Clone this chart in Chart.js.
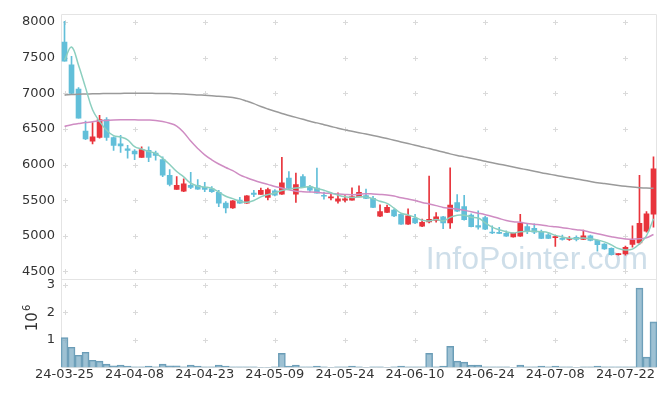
<!DOCTYPE html>
<html>
<head>
<meta charset="utf-8">
<script src="https://cdn.jsdelivr.net/npm/chart.js@4.4.1/dist/chart.umd.min.js"></script>
<style>
  html, body { margin: 0; padding: 0; background: #fff; }
  #wrap { width: 665px; height: 396px; }
</style>
</head>
<body>
<div id="wrap"><canvas id="chart"></canvas></div>
<script>
// trading days shown on the x axis
const dates = [
  '24-03-25','24-03-26','24-03-27','24-03-28','24-03-29','24-04-01','24-04-02','24-04-03','24-04-04','24-04-05',
  '24-04-08','24-04-09','24-04-11','24-04-12','24-04-15','24-04-16','24-04-17','24-04-18','24-04-19','24-04-22',
  '24-04-23','24-04-24','24-04-25','24-04-26','24-04-29','24-04-30','24-05-02','24-05-03','24-05-07','24-05-08',
  '24-05-09','24-05-10','24-05-13','24-05-14','24-05-16','24-05-17','24-05-20','24-05-21','24-05-22','24-05-23',
  '24-05-24','24-05-27','24-05-28','24-05-29','24-05-30','24-05-31','24-06-03','24-06-04','24-06-05','24-06-07',
  '24-06-10','24-06-11','24-06-12','24-06-13','24-06-14','24-06-17','24-06-18','24-06-19','24-06-20','24-06-21',
  '24-06-24','24-06-25','24-06-26','24-06-27','24-06-28','24-07-01','24-07-02','24-07-03','24-07-04','24-07-05',
  '24-07-08','24-07-09','24-07-10','24-07-11','24-07-12','24-07-15','24-07-16','24-07-17','24-07-18','24-07-19',
  '24-07-22','24-07-23','24-07-24','24-07-25','24-07-26'
];

const opens = [7720,7400,7060,6470,6330,6380,6630,6380,6290,6220, 6190,6100,6200,6160,6070,5850,5650,5625,5710,5710,
  5680,5660,5610,5460,5390,5500,5460,5600,5580,5540, 5630,5585,5810,5585,5830,5685,5670,5565,5533,5485,
  5500,5500,5545,5565,5525,5275,5330,5360,5300,5165, 5245,5135,5195,5215,5265,5180,5465,5410,5290,5145,
  5255,5050,5045,5035,4985,4995,5130,5105,5050,5015, 4975,4965,4950,4980,4950,5000,4935,4885,4825,4735,
  4745,4880,4900,5065,5305];
const highs = [8010,7520,7080,6610,6590,6690,6660,6390,6410,6270, 6210,6250,6250,6190,6110,5930,5830,5800,5890,5790,
  5750,5690,5640,5480,5495,5540,5565,5640,5670,5670, 5650,6100,5900,5880,5860,5710,5950,5615,5605,5605,
  5565,5675,5700,5655,5555,5435,5430,5375,5310,5380, 5300,5235,5840,5325,5275,5955,5580,5570,5310,5350,
  5275,5140,5120,5070,5040,5300,5170,5170,5080,5030, 5000,5010,4990,5000,5080,5010,4940,4890,4830,4750,
  4855,5140,5850,5340,6110];
const lows = [7450,6990,6650,6350,6290,6370,6340,6200,6170,6090, 6070,6100,6040,6060,5830,5700,5650,5620,5660,5650,
  5620,5610,5410,5320,5385,5455,5455,5550,5580,5505, 5560,5580,5660,5470,5680,5615,5600,5515,5505,5460,
  5475,5500,5545,5520,5395,5270,5325,5270,5160,5160, 5170,5130,5180,5190,5100,5105,5340,5220,5125,5095,
  5085,5030,5030,4990,4980,4990,5030,5030,4960,4960, 4850,4940,4935,4930,4945,4930,4785,4810,4730,4730,
  4730,4840,4880,5050,5120];
const closes = [7450,7000,6650,6360,6390,6630,6380,6270,6260,6200, 6150,6210,6100,6130,5850,5720,5710,5730,5680,5655,
  5650,5620,5460,5390,5490,5460,5560,5580,5640,5650, 5570,5745,5665,5720,5685,5640,5600,5555,5540,5520,
  5520,5550,5610,5525,5400,5340,5400,5280,5165,5280, 5180,5190,5230,5265,5180,5430,5345,5225,5130,5120,
  5095,5040,5035,4995,5035,5180,5060,5050,4965,4965, 4990,4950,4955,4950,5000,4935,4875,4815,4735,4745,
  4840,4935,5175,5310,5940];

// moving average lines
const ma5 = [7465,7650,7395,7080,6770,6606,6482,6406,6386,6348, 6252,6218,6184,6158,6088,6002,5902,5828,5738,5699,
  5685,5667,5613,5555,5522,5484,5472,5496,5546,5578, 5600,5637,5654,5670,5677,5691,5662,5640,5604,5571,
  5547,5537,5548,5545,5521,5485,5455,5389,5317,5293, 5261,5219,5209,5229,5209,5259,5290,5289,5262,5250,
  5183,5122,5084,5057,5040,5057,5061,5064,5058,5044, 5006,4984,4965,4962,4969,4958,4943,4915,4872,4821,
  4802,4814,4886,5001,5240];
const ma20 = [6536,6560,6575,6590,6600,6615,6620,6625,6628,6628, 6628,6625,6625,6620,6605,6580,6540,6450,6330,6226,
  6136,6067,6008,5959,5914,5856,5815,5780,5749,5722, 5693,5670,5648,5627,5619,5615,5610,5601,5594,5587,
  5581,5577,5585,5591,5587,5581,5573,5558,5534,5516, 5496,5468,5447,5424,5399,5388,5375,5359,5338,5318,
  5297,5272,5243,5216,5198,5190,5173,5162,5152,5136, 5126,5114,5101,5085,5076,5051,5028,5007,4987,4969,
  4956,4951,4958,4973,5019];
const maLong = [6977,6982,6987,6990,6993,6995,6997,6998,6999,7000, 7000,7000,7000,6999,6998,6996,6993,6989,6985,6978,
  6972,6966,6960,6952,6942,6922,6890,6855,6815,6780, 6748,6718,6690,6662,6635,6608,6585,6560,6535,6510,
  6487,6468,6448,6428,6408,6388,6365,6342,6318,6295, 6272,6248,6225,6200,6175,6150,6128,6108,6088,6068,
  6046,6026,6006,5986,5966,5946,5926,5906,5886,5868, 5850,5832,5815,5798,5780,5763,5746,5733,5720,5707,
  5695,5684,5676,5670,5667];

const volumes = [1080000,730000,440000,550000,260000,230000,120000,60000,80000,50000,
  25000,25000,50000,20000,120000,60000,60000,25000,80000,50000,
  20000,20000,80000,50000,20000,20000,20000,20000,3000,3000,
  20000,510000,50000,80000,20000,20000,50000,20000,3000,20000,
  20000,50000,20000,3000,20000,20000,3000,20000,50000,20000,
  20000,20000,510000,20000,50000,760000,230000,190000,80000,80000,
  20000,20000,20000,20000,3000,80000,20000,20000,50000,20000,
  50000,20000,20000,3000,20000,20000,50000,20000,20000,20000,
  20000,20000,2870000,370000,1650000];

const priceTicks = [4500, 5000, 5500, 6000, 6500, 7000, 7500, 8000];
const volTicks = [1000000, 2000000, 3000000];
const priceMin = 4394, priceMax = 8116;
const volMax = 3200000;

const UP = '#e8343c', DOWN = '#62bfd9';
const candleColors = opens.map((o, i) => closes[i] >= o ? UP : DOWN);

Chart.defaults.font.family = '"DejaVu Sans", sans-serif';
Chart.defaults.font.size = 13;
Chart.defaults.color = '#333';

// crosses at grid points, panel borders, the watermark and the 10^6 unit label
const decor = {
  id: 'decor',
  beforeDatasetsDraw(chart) {
    const { ctx, chartArea: a, scales } = chart;
    const x = scales.x, yp = scales.y, yv = scales.yv;
    ctx.save();

    ctx.font = '32px "Liberation Sans", Arial, sans-serif';
    ctx.fillStyle = 'rgba(185,208,223,0.7)';
    ctx.textAlign = 'right';
    ctx.textBaseline = 'alphabetic';
    ctx.fillText('InfoPointer.com', a.right - 9, yp.bottom - 10);

    ctx.strokeStyle = '#dadada';
    ctx.lineWidth = 1;
    const cross = (cx, cy) => {
      cx = Math.round(cx) + 0.5; cy = Math.round(cy) + 0.5;
      ctx.beginPath();
      ctx.moveTo(cx - 2.5, cy); ctx.lineTo(cx + 2.5, cy);
      ctx.moveTo(cx, cy - 2.5); ctx.lineTo(cx, cy + 2.5);
      ctx.stroke();
    };
    for (let i = 0; i < dates.length; i += 10) {
      const cx = x.getPixelForValue(i);
      priceTicks.forEach(v => cross(cx, yp.getPixelForValue(v)));
      volTicks.forEach(v => cross(cx, yv.getPixelForValue(v)));
    }

    ctx.strokeStyle = '#e4e4e4';
    const l = Math.round(a.left) + 0.5, r = Math.round(a.right) - 0.5;
    const t = Math.round(a.top) + 0.5, m = Math.round(yp.bottom) + 0.5, b = Math.round(a.bottom) + 0.5;
    ctx.beginPath();
    ctx.moveTo(l, t); ctx.lineTo(r, t); ctx.lineTo(r, b); ctx.lineTo(l, b); ctx.closePath();
    ctx.moveTo(l, m); ctx.lineTo(r, m);
    ctx.stroke();

    // volume unit, rotated, with a raised exponent
    const mid = (yv.top + yv.bottom) / 2;
    ctx.translate(37, mid + 8);
    ctx.rotate(-Math.PI / 2);
    ctx.fillStyle = '#333';
    ctx.textAlign = 'left';
    ctx.font = '15px "DejaVu Sans", sans-serif';
    ctx.fillText('10', 0, 0);
    const w = ctx.measureText('10').width;
    ctx.font = '10px "DejaVu Sans", sans-serif';
    ctx.fillText('6', w + 1, -7);
    ctx.restore();
  }
};

const maLine = (data, color) => ({
  type: 'line', data, yAxisID: 'y', borderColor: color, borderWidth: 1.5,
  pointRadius: 0, tension: 0.4, fill: false, order: 0
});

const noGrid = { display: false, drawTicks: false, tickLength: 0 };

new Chart(document.getElementById('chart'), {
  type: 'bar',
  data: {
    labels: dates,
    datasets: [
      maLine(ma5, '#8ccfbf'),
      maLine(ma20, '#cf8cc3'),
      maLine(maLong, '#9a9a9a'),
      {
        label: 'body', data: opens.map((o, i) => [o, closes[i]]), yAxisID: 'y',
        backgroundColor: candleColors, barThickness: 5, minBarLength: 1, grouped: false, order: 1
      },
      {
        label: 'wick', data: lows.map((lo, i) => [lo, highs[i]]), yAxisID: 'y',
        backgroundColor: candleColors, barThickness: 1, grouped: false, order: 2
      },
      {
        label: 'volume', data: volumes, yAxisID: 'yv',
        backgroundColor: 'rgba(126,172,196,0.75)', borderColor: '#6a9cb6', borderWidth: 1,
        barPercentage: 1, categoryPercentage: 1, grouped: false, order: 3
      }
    ]
  },
  options: {
    responsive: true,
    maintainAspectRatio: false,
    animation: false,
    layout: { padding: { top: 10, right: 8, bottom: 14, left: 0 } },
    plugins: { legend: { display: false }, tooltip: { enabled: false } },
    scales: {
      x: {
        grid: noGrid,
        border: { display: false },
        ticks: {
          autoSkip: false, maxRotation: 0, padding: -0.5,
          callback: (v, i) => i % 10 === 0 ? dates[i] : null
        }
      },
      yv: {
        type: 'linear', position: 'left', stack: 'panels', stackWeight: 1,
        min: 0, max: volMax,
        grid: noGrid,
        border: { display: false },
        afterBuildTicks: s => { s.ticks = volTicks.map(v => ({ value: v })); },
        ticks: { padding: 6, callback: v => String(v / 1000000) },
        afterFit: s => { s.width = 61; }
      },
      y: {
        type: 'linear', position: 'left', stack: 'panels', stackWeight: 3,
        min: priceMin, max: priceMax,
        grid: noGrid,
        border: { display: false },
        afterBuildTicks: s => { s.ticks = priceTicks.map(v => ({ value: v })); },
        ticks: { padding: 6, callback: v => String(v) },
        afterFit: s => { s.width = 61; }
      }
    }
  },
  plugins: [decor]
});
</script>
</body>
</html>
